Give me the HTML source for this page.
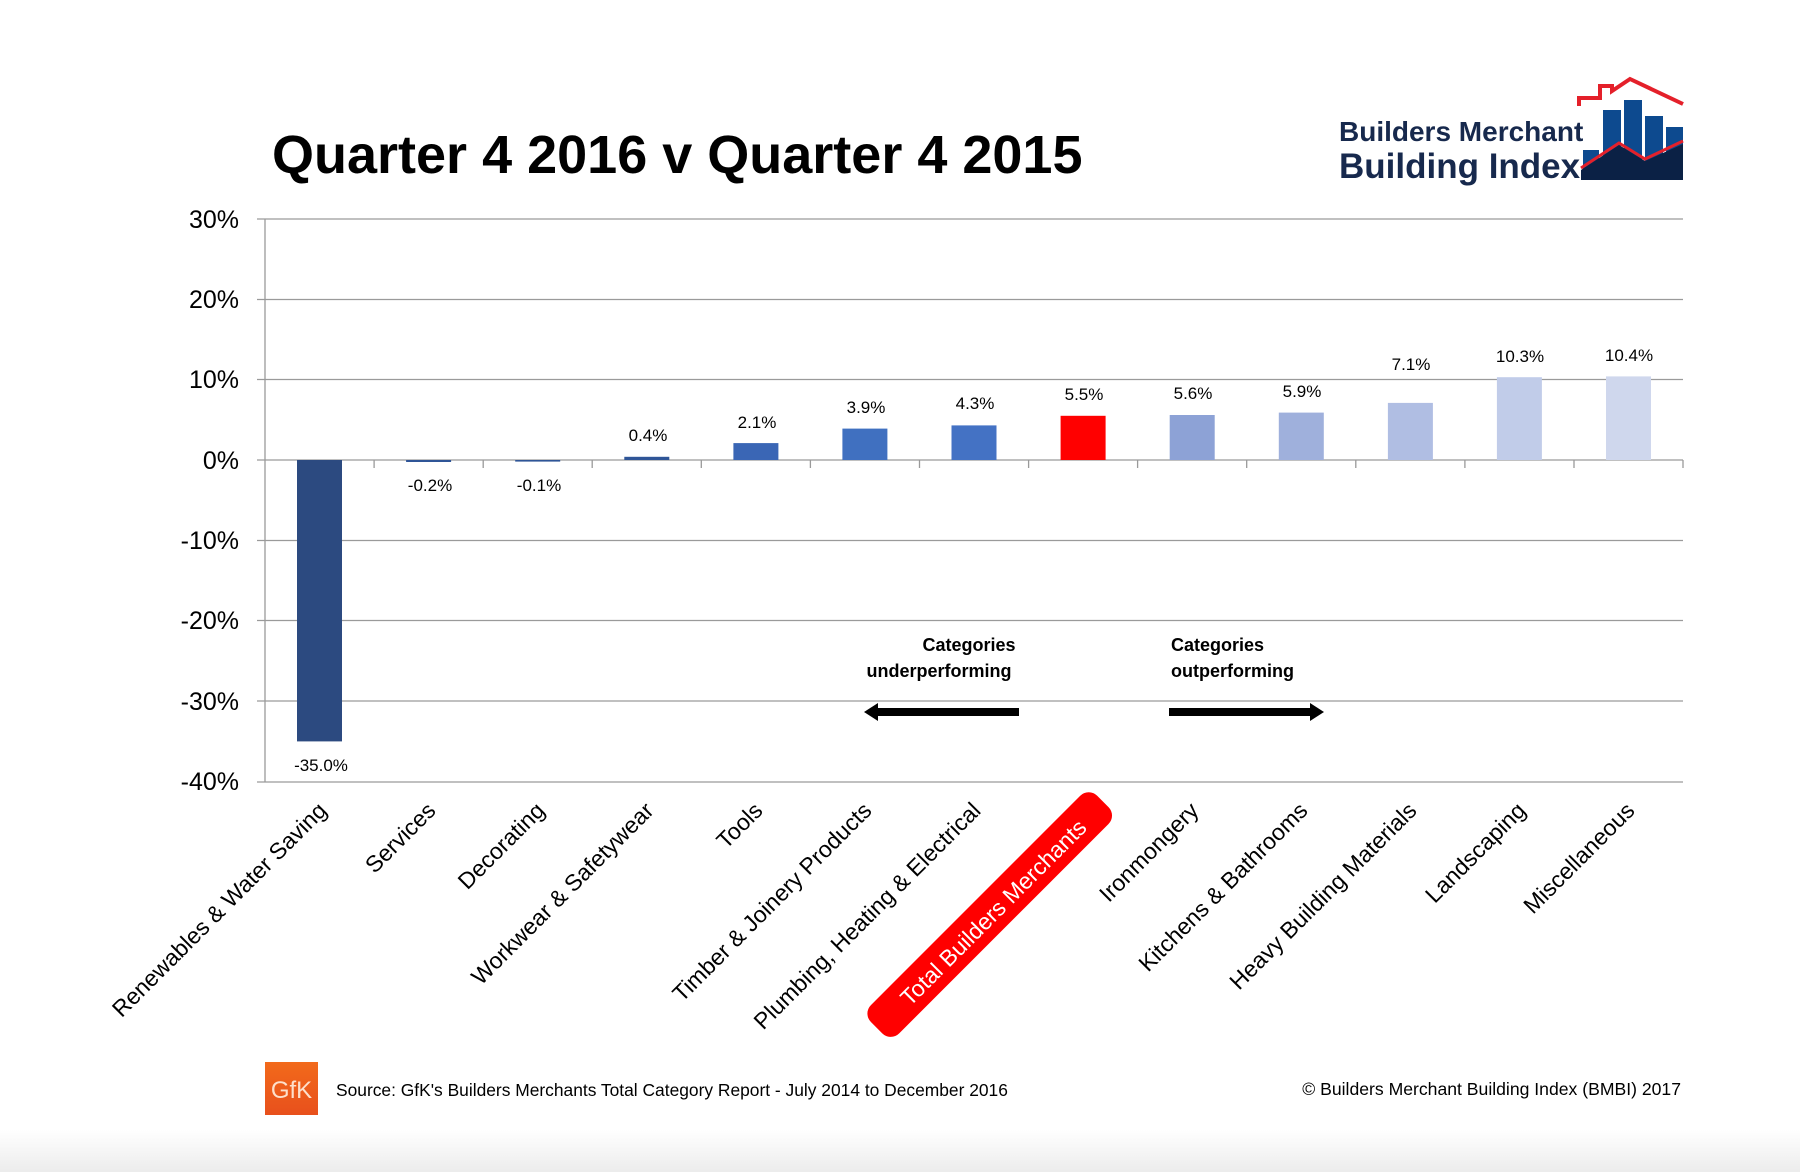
<!DOCTYPE html>
<html><head><meta charset="utf-8"><style>
html,body{margin:0;padding:0;background:#fff}
svg{display:block}
text{font-family:"Liberation Sans",sans-serif}
</style></head><body>
<svg width="1800" height="1172" viewBox="0 0 1800 1172" xmlns="http://www.w3.org/2000/svg">
<defs>
<linearGradient id="bg" x1="0" y1="0" x2="0" y2="1"><stop offset="0" stop-color="#fff"/><stop offset="1" stop-color="#ececec"/></linearGradient>
<linearGradient id="gfk" x1="0" y1="0" x2="0" y2="1"><stop offset="0" stop-color="#f26a1b"/><stop offset="1" stop-color="#e8501c"/></linearGradient>
</defs>
<rect x="0" y="1130" width="1800" height="42" fill="url(#bg)"/>
<text x="272" y="173" font-size="54" font-weight="bold" fill="#000">Quarter 4 2016 v Quarter 4 2015</text>

<!-- logo -->
<text x="1339" y="141" font-size="28" font-weight="bold" fill="#17294d">Builders Merchant</text>
<text x="1339" y="178" font-size="35" font-weight="bold" fill="#17294d">Building Index</text>
<rect x="1583" y="150" width="16" height="30" fill="#0d4a8f"/>
<rect x="1603" y="110" width="18" height="70" fill="#0d4a8f"/>
<rect x="1624" y="100" width="18" height="80" fill="#0d4a8f"/>
<rect x="1645" y="116" width="18" height="64" fill="#0d4a8f"/>
<rect x="1666" y="127" width="17" height="53" fill="#0d4a8f"/>
<polygon points="1581,170 1619,145 1645,161 1683,144 1683,180 1581,180" fill="#0b2145"/>
<polyline points="1581,168 1619,143 1645,159 1683,141" fill="none" stroke="#e4202a" stroke-width="3"/>
<polyline points="1579,106 1579,98 1600,98 1600,86 1612,86 1612,91 1630,79 1683,104" fill="none" stroke="#e4202a" stroke-width="4"/>

<!-- grid -->
<g stroke="#9a9a9a" stroke-width="1.3">
<line x1="257" y1="219" x2="1683" y2="219"/>
<line x1="257" y1="299.5" x2="1683" y2="299.5"/>
<line x1="257" y1="379.5" x2="1683" y2="379.5"/>
<line x1="257" y1="460" x2="1683" y2="460"/>
<line x1="257" y1="540.5" x2="1683" y2="540.5"/>
<line x1="257" y1="620.5" x2="1683" y2="620.5"/>
<line x1="257" y1="701" x2="1683" y2="701"/>
<line x1="257" y1="782" x2="1683" y2="782"/>
<line x1="265" y1="219" x2="265" y2="782"/>
<path d="M374.1 460v8M483.2 460v8M592.2 460v8M701.3 460v8M810.4 460v8M919.5 460v8M1028.6 460v8M1137.6 460v8M1246.7 460v8M1355.8 460v8M1464.9 460v8M1574 460v8M1683 460v8"/>
</g>
<g font-size="25" fill="#000" text-anchor="end">
<text x="239" y="228">30%</text><text x="239" y="308">20%</text><text x="239" y="388">10%</text><text x="239" y="469">0%</text>
<text x="239" y="549">-10%</text><text x="239" y="629">-20%</text><text x="239" y="710">-30%</text><text x="239" y="790">-40%</text>
</g>

<!-- bars -->
<rect x="297" y="460" width="45" height="281.4" fill="#2c4a80"/>
<rect x="406.1" y="460" width="45" height="2" fill="#2f5597"/>
<rect x="515.2" y="460" width="45" height="1.6" fill="#2f5597"/>
<rect x="624.3" y="456.8" width="45" height="3.2" fill="#2f5597"/>
<rect x="733.4" y="443.1" width="45" height="16.9" fill="#3a66b5"/>
<rect x="842.4" y="428.6" width="45" height="31.4" fill="#4070c0"/>
<rect x="951.5" y="425.4" width="45" height="34.6" fill="#4472c4"/>
<rect x="1060.6" y="415.8" width="45" height="44.2" fill="#ff0000"/>
<rect x="1169.7" y="415" width="45" height="45" fill="#8da2d6"/>
<rect x="1278.8" y="412.6" width="45" height="47.4" fill="#9fb0dc"/>
<rect x="1387.9" y="402.9" width="45" height="57.1" fill="#b0bee3"/>
<rect x="1496.9" y="377.2" width="45" height="82.8" fill="#c1cce9"/>
<rect x="1606" y="376.4" width="45" height="83.6" fill="#cfd7ed"/>

<g font-size="17" fill="#000" text-anchor="middle">
<text x="321" y="771">-35.0%</text>
<text x="430" y="491">-0.2%</text>
<text x="539" y="491">-0.1%</text>
<text x="648" y="441">0.4%</text>
<text x="757" y="428">2.1%</text>
<text x="866" y="413">3.9%</text>
<text x="975" y="409">4.3%</text>
<text x="1084" y="400">5.5%</text>
<text x="1193" y="399">5.6%</text>
<text x="1302" y="397">5.9%</text>
<text x="1411" y="370">7.1%</text>
<text x="1520" y="362">10.3%</text>
<text x="1629" y="361">10.4%</text>
</g>

<!-- category labels -->
<g font-size="23" fill="#000" text-anchor="end">
<text transform="translate(328,812) rotate(-45)">Renewables &amp; Water Saving</text>
<text transform="translate(437,812) rotate(-45)">Services</text>
<text transform="translate(546,812) rotate(-45)">Decorating</text>
<text transform="translate(655,812) rotate(-45)">Workwear &amp; Safetywear</text>
<text transform="translate(764,812) rotate(-45)">Tools</text>
<text transform="translate(873,812) rotate(-45)">Timber &amp; Joinery Products</text>
<text transform="translate(982,812) rotate(-45)">Plumbing, Heating &amp; Electrical</text>
<g transform="translate(1088,829) rotate(-45)">
<rect x="-290" y="-29" width="320" height="40" rx="12" fill="#ff0000"/>
<text x="0" y="0" fill="#fff">Total Builders Merchants</text>
</g>
<text transform="translate(1200,812) rotate(-45)">Ironmongery</text>
<text transform="translate(1309,812) rotate(-45)">Kitchens &amp; Bathrooms</text>
<text transform="translate(1418,812) rotate(-45)">Heavy Building Materials</text>
<text transform="translate(1527,812) rotate(-45)">Landscaping</text>
<text transform="translate(1636,812) rotate(-45)">Miscellaneous</text>
</g>

<!-- annotations -->
<g font-size="18" font-weight="bold" fill="#000">
<text x="969" y="651" text-anchor="middle">Categories</text>
<text x="939" y="677" text-anchor="middle">underperforming</text>
<text x="1171" y="651">Categories</text>
<text x="1171" y="677">outperforming</text>
</g>
<rect x="876" y="708" width="143" height="8" fill="#000"/>
<polygon points="864,712 878,703 878,721" fill="#000"/>
<rect x="1169" y="708" width="143" height="8" fill="#000"/>
<polygon points="1324,712 1310,703 1310,721" fill="#000"/>

<!-- footer -->
<rect x="265" y="1062" width="53" height="53" fill="url(#gfk)"/>
<text x="291.5" y="1098" font-size="24" fill="#fde0cc" text-anchor="middle">GfK</text>
<text x="336" y="1096" font-size="17.4" fill="#000">Source: GfK's Builders Merchants Total Category Report - July 2014 to December 2016</text>
<text x="1681" y="1095" font-size="17.6" fill="#000" text-anchor="end">© Builders Merchant Building Index (BMBI) 2017</text>
</svg>
</body></html>
